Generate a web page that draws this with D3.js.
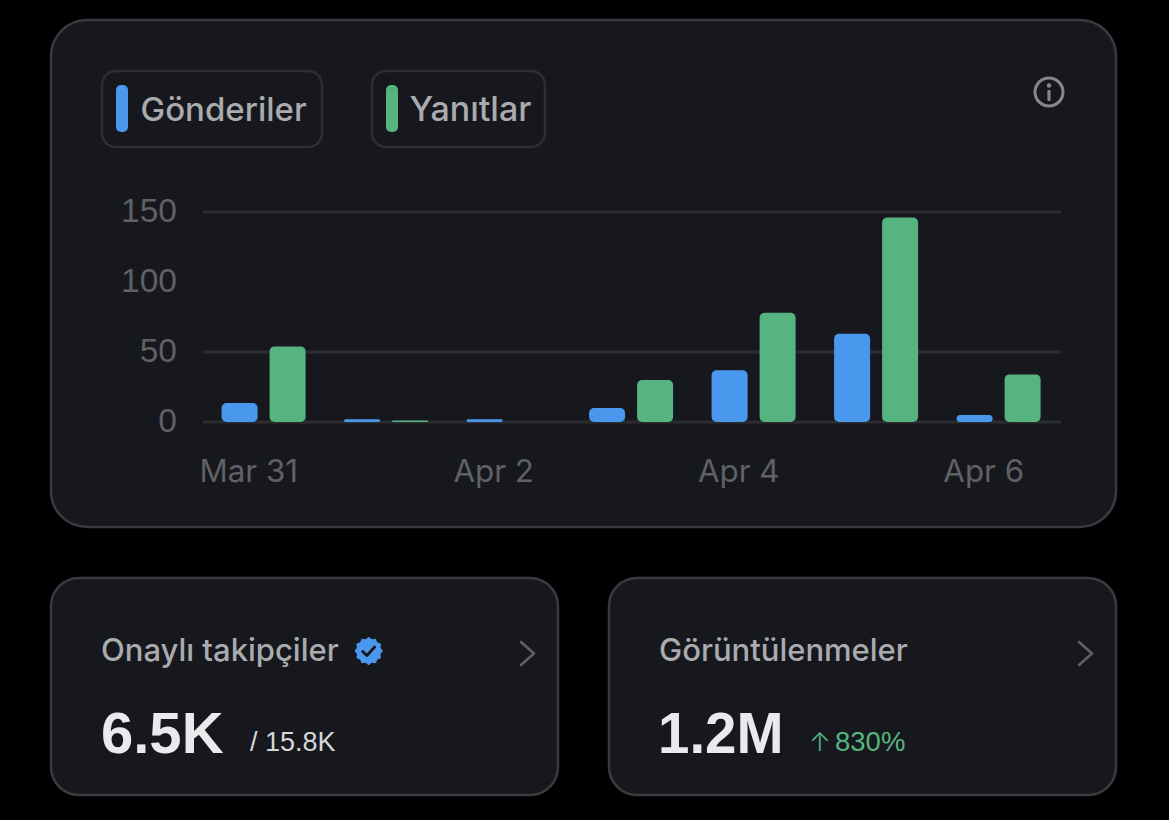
<!DOCTYPE html>
<html><head><meta charset="utf-8">
<script src="https://cdnjs.cloudflare.com/ajax/libs/d3/7.8.5/d3.min.js"></script>
<style>html,body{margin:0;padding:0;background:#000;overflow:hidden}svg{display:block}
.i{font-family:Inter,sans-serif}.l{font-family:"Liberation Sans",sans-serif}</style>
</head><body><svg id="c" width="1169" height="820"></svg>
<script>
const days = ["Mar 31","Apr 1","Apr 2","Apr 3","Apr 4","Apr 5","Apr 6"];
const seriesNames = ["Gönderiler","Yanıtlar"];
const seriesColors = ["#4a98ee","#55b480"];
const gonderiler = [13.5,2,2,10,37,63,5];
const yanitlar = [54,1,0,30,78,146,34];
const yTicks = [0,50,100,150];
const gridValues = [0,50,150];
const xTickLabels = ["Mar 31","Apr 2","Apr 4","Apr 6"];

const svg = d3.select("#c");
const cardFill="#17181d", cardStroke="#3a3b40", muted="#606165", label="#a9abaf", bright="#e9eaec";

function card(x,y,w,h,r){svg.append("rect").attr("x",x).attr("y",y).attr("width",w).attr("height",h).attr("rx",r)
  .attr("fill",cardFill).attr("stroke",cardStroke).attr("stroke-width",2.5);}
function text(x,y,s,size,fill,cls,weight){return svg.append("text").attr("x",x).attr("y",y).attr("class",cls)
  .attr("font-size",size).attr("fill",fill).attr("font-weight",weight||400).text(s);}

card(51,20,1065,507,36);
card(51,578,507,217,28);
card(609,578,507,217,28);

// legend
const legendBoxes=[[102,220],[372,173]];
const legendTextX=[140.5,409.5];
const legendTextSize=[33,34];
seriesNames.forEach((n,i)=>{
  const [x,w]=legendBoxes[i];
  svg.append("rect").attr("x",x).attr("y",71).attr("width",w).attr("height",76).attr("rx",14)
    .attr("fill","none").attr("stroke","#2d2e33").attr("stroke-width",2.5);
  svg.append("rect").attr("x",x+14).attr("y",85).attr("width",12).attr("height",47).attr("rx",5).attr("fill",seriesColors[i]);
  text(legendTextX[i],120.5,n,legendTextSize[i],label,"i",500);
});

// info icon
const info=svg.append("g").attr("transform","translate(1049,92)");
info.append("circle").attr("r",14).attr("fill","none").attr("stroke","#85878b").attr("stroke-width",3);
info.append("circle").attr("cy",-6.5).attr("r",2.2).attr("fill","#85878b");
info.append("rect").attr("x",-1.6).attr("y",-2).attr("width",3.2).attr("height",11).attr("rx",1.2).attr("fill","#85878b");

// scales
const x=d3.scaleBand().domain(days).range([202.75,1060.25]);
const xInner=d3.scaleBand().domain(seriesNames).range([19.25,103.25]).paddingInner(0.25);
const y=d3.scaleLinear().domain([0,150]).range([422,212]);

// grid (no rule at 100 in the reference)
svg.append("g").selectAll("line").data(gridValues).join("line")
  .attr("x1",203).attr("x2",1061).attr("y1",d=>y(d)).attr("y2",d=>y(d))
  .attr("stroke","#2c2d31").attr("stroke-width",3);

// y axis
const yAxis=svg.append("g").attr("transform","translate(203,-1.5)")
  .call(d3.axisLeft(y).tickValues(yTicks).tickSize(0).tickPadding(26));
yAxis.select(".domain").remove();
yAxis.selectAll("text").attr("font-size",33.5).attr("fill",muted).attr("font-family",'"Liberation Sans",sans-serif');

// x axis
const xAxis=svg.append("g").attr("transform","translate(-15.3,422)")
  .call(d3.axisBottom(x).tickValues(xTickLabels).tickSize(0).tickPadding(38));
xAxis.select(".domain").remove();
xAxis.selectAll("text").attr("font-size",31.3).attr("fill",muted).attr("font-family","Inter,sans-serif");

// bars
const seriesValues=[gonderiler,yanitlar];
seriesNames.forEach((n,i)=>{
  svg.append("g").selectAll("rect").data(days.map((d,j)=>({d,v:seriesValues[i][j]})).filter(e=>e.v>0)).join("rect")
    .attr("x",e=>x(e.d)+xInner(n)-0.4).attr("width",xInner.bandwidth())
    .attr("y",e=>y(e.v)).attr("height",e=>y(0)-y(e.v))
    .attr("rx",e=>Math.min(5,(y(0)-y(e.v))/2)).attr("fill",seriesColors[i]);
});

// stat cards
text(101,661,"Onaylı takipçiler",31,label,"i",500);
text(659,661,"Görüntülenmeler",31,label,"i",500);
text(101,753,"6.5K",58,bright,"l",700);
text(658,753,"1.2M",56.5,bright,"l",700);
text(250,751,"/ 15.8K",27,"#d6d7d9","l",400);
text(809,751,"↑",26,"#55b480","i",300);
text(835,751,"830%",27.5,"#55b480","l",400);

// chevrons
[[521],[1079]].forEach(([cx])=>{
  svg.append("path").attr("d",`M${cx},642 L${cx+13},653.5 L${cx},665`).attr("fill","none")
    .attr("stroke","#5e6065").attr("stroke-width",2.6).attr("stroke-linecap","round").attr("stroke-linejoin","round");
});

// verified badge
const badge=svg.append("g").attr("transform","translate(368.7,651)");
const pts=d3.range(0,24).map(k=>[k*Math.PI/12,k%2?12.2:14]);
badge.append("path").attr("d",d3.lineRadial().curve(d3.curveCatmullRomClosed)(pts)).attr("fill","#4a98ee");
badge.append("path").attr("d","M-6,0.5 L-1.8,4.5 L6,-4").attr("fill","none").attr("stroke","#17181d")
  .attr("stroke-width",2.8).attr("stroke-linecap","round").attr("stroke-linejoin","round");
</script></body></html>
